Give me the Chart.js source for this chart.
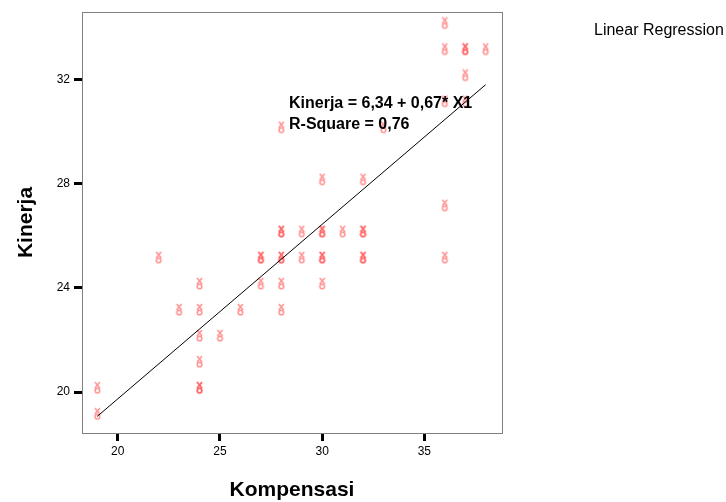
<!DOCTYPE html>
<html>
<head>
<meta charset="utf-8">
<script src="https://cdn.jsdelivr.net/npm/chart.js@4/dist/chart.umd.min.js"></script>
<style>
  html, body { margin: 0; padding: 0; background: #fff; }
  #wrap { width: 726px; height: 502px; }
</style>
</head>
<body>
<div id="wrap"><canvas id="scatterChart"></canvas></div>
<script>
// Kompensasi (X) and Kinerja (Y) for each respondent
const kompensasi = [36, 36, 37, 37, 38, 37, 36, 37, 28, 33,
  30, 32, 36,
  28, 28, 29, 30, 30, 31, 32, 32,
  22, 27, 27, 28, 28, 29, 30, 30, 32, 32, 36,
  24, 27, 28, 30,
  23, 24, 26, 28,
  24, 25,
  24,
  19, 24, 24,
  19];
const kinerja = [34, 33, 33, 33, 33, 32, 31, 31, 30, 30,
  28, 28, 27,
  26, 26, 26, 26, 26, 26, 26, 26,
  25, 25, 25, 25, 25, 25, 25, 25, 25, 25, 25,
  24, 24, 24, 24,
  23, 23, 23, 23,
  22, 22,
  21,
  20, 20, 20,
  19];

// fitted line: Kinerja = 6,34 + 0,67 * X1
const fitX = [19, 38];
const fitY = [19.07, 31.80];

const xTicks = [20, 25, 30, 35];
const yTicks = [20, 24, 28, 32];

// little SPSS style marker, glyph sits a bit above the data point
function makeMarker() {
  const c = document.createElement('canvas');
  c.width = 9; c.height = 22;
  const g = c.getContext('2d');
  g.strokeStyle = 'rgba(255, 60, 60, 0.55)';
  g.lineWidth = 1.6;
  g.beginPath();
  g.moveTo(2, 1); g.lineTo(7, 7);
  g.moveTo(7, 1); g.lineTo(2, 7);
  g.stroke();
  g.beginPath();
  g.arc(4.5, 9.5, 2.3, 0, Math.PI * 2);
  g.stroke();
  return c;
}

const frame = {
  id: 'frame',
  afterDraw(chart) {
    const { ctx, chartArea: a } = chart;
    ctx.save();
    ctx.strokeStyle = '#808080';
    ctx.lineWidth = 1;
    ctx.strokeRect(a.left + 0.5, a.top + 0.5, a.right - a.left, a.bottom - a.top);

    ctx.fillStyle = '#000';
    ctx.font = 'bold 16px "Liberation Sans", Arial, sans-serif';
    ctx.textBaseline = 'middle';
    ctx.textAlign = 'left';
    ctx.fillText('Kinerja = 6,34 + 0,67* X1', 289, 104);
    ctx.fillText('R-Square = 0,76', 289, 125);

    ctx.font = 'bold 21px "Liberation Sans", Arial, sans-serif';
    ctx.textAlign = 'center';
    ctx.fillText('Kompensasi', (a.left + a.right) / 2, 490);
    ctx.translate(26, (a.top + a.bottom) / 2);
    ctx.rotate(-Math.PI / 2);
    ctx.fillText('Kinerja', 0, 0);
    ctx.restore();

    ctx.save();
    ctx.font = '16px "Liberation Sans", Arial, sans-serif';
    ctx.fillStyle = '#000';
    ctx.textBaseline = 'middle';
    ctx.fillText('Linear Regression', 594, 31);
    ctx.restore();
  }
};

new Chart(document.getElementById('scatterChart'), {
  type: 'scatter',
  data: {
    datasets: [
      {
        label: 'Fit',
        type: 'line',
        data: fitX.map((x, i) => ({ x: x, y: fitY[i] })),
        borderColor: '#000',
        borderWidth: 1,
        pointRadius: 0,
        fill: false
      },
      {
        label: 'Observed',
        data: kompensasi.map((x, i) => ({ x: x, y: kinerja[i] })),
        pointStyle: makeMarker(),
        pointRadius: 5
      }
    ]
  },
  plugins: [frame],
  options: {
    responsive: true,
    maintainAspectRatio: false,
    animation: false,
    layout: { padding: { left: 0, right: 224, top: 12, bottom: 0 } },
    plugins: {
      legend: { display: false },
      tooltip: { enabled: false }
    },
    scales: {
      x: {
        type: 'linear',
        min: 18.25,
        max: 38.8,
        afterBuildTicks: s => { s.ticks = xTicks.map(v => ({ value: v })); },
        afterFit: s => { s.height = 69; },
        border: { display: false },
        grid: { drawOnChartArea: false, color: '#000', lineWidth: 3, tickLength: 8 },
        ticks: {
          color: '#000',
          padding: 3,
          maxRotation: 0,
          font: { family: '"Liberation Sans", Arial', size: 12 }
        }
      },
      y: {
        type: 'linear',
        min: 18.43,
        max: 34.59,
        afterBuildTicks: s => { s.ticks = yTicks.map(v => ({ value: v })); },
        afterFit: s => { s.width = 82; },
        border: { display: false },
        grid: { drawOnChartArea: false, color: '#000', lineWidth: 3, tickLength: 8 },
        ticks: {
          color: '#000',
          padding: 4,
          font: { family: '"Liberation Sans", Arial', size: 12 }
        }
      }
    }
  }
});
</script>
</body>
</html>
